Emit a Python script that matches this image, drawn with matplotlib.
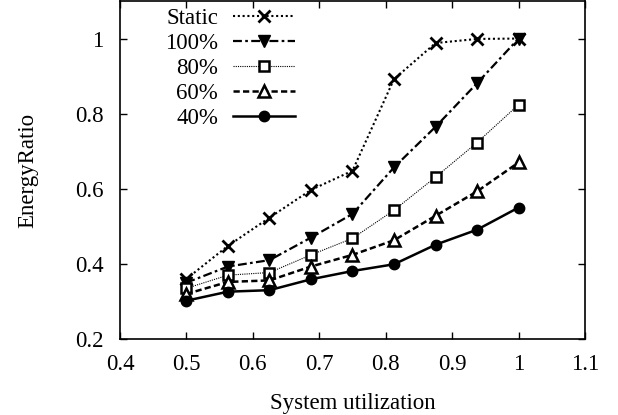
import matplotlib
matplotlib.use("Agg")
import matplotlib.pyplot as plt

x = [0.5, 0.5625, 0.625, 0.6875, 0.75, 0.8125, 0.875, 0.9375, 1.0]
static = [0.36, 0.448, 0.523, 0.597, 0.648, 0.892, 0.988, 0.999, 1.0]
p100 = [0.35, 0.393, 0.41, 0.47, 0.533, 0.657, 0.765, 0.881, 1.0]
p80 = [0.335, 0.37, 0.377, 0.424, 0.468, 0.543, 0.631, 0.723, 0.824]
p60 = [0.32, 0.352, 0.356, 0.393, 0.424, 0.463, 0.528, 0.593, 0.67]
p40 = [0.302, 0.326, 0.33, 0.359, 0.381, 0.399, 0.451, 0.491, 0.55]
labels = ["Static", "100%", "80%", "60%", "40%"]
xticks = [0.4, 0.5, 0.6, 0.7, 0.8, 0.9, 1.0, 1.1]
xticklabels = ["0.4", "0.5", "0.6", "0.7", "0.8", "0.9", "1", "1.1"]
yticks = [0.2, 0.4, 0.6, 0.8, 1.0]
yticklabels = ["0.2", "0.4", "0.6", "0.8", "1"]

plt.rcParams['font.family'] = ['Liberation Serif', 'DejaVu Serif']

FS = 16.5
fig = plt.figure(figsize=(6.18, 4.15), dpi=100)
ax = fig.add_axes([120/618, 1 - 339/415, 465/618, 338/415])

ax.plot(x, static, color='black', linestyle=(0, (1, 1.3)), linewidth=1.5,
        marker='x', markersize=8.5, markeredgewidth=2, label=labels[0])
ax.plot(x, p100, color='black', linestyle=(0, (4, 1.5, 1.2, 1.5)), linewidth=1.6,
        marker='v', markersize=9, label=labels[1])
ax.plot(x, p80, color='black', linestyle=(0, (1, 1)), linewidth=0.8,
        marker='s', markersize=7.5, markerfacecolor='white', markeredgewidth=1.8, label=labels[2])
ax.plot(x, p60, color='black', linestyle=(0, (2.5, 1.3)), linewidth=1.8,
        marker='^', markersize=8, markerfacecolor='white', markeredgewidth=1.8, label=labels[3])
ax.plot(x, p40, color='black', linestyle='-', linewidth=1.8,
        marker='o', markersize=7.5, label=labels[4])

ax.set_xlim(0.4, 1.1)
ax.set_ylim(0.2, 1.1)
ax.set_xticks(xticks)
ax.set_xticklabels(xticklabels)
ax.set_yticks(yticks)
ax.set_yticklabels(yticklabels)
ax.tick_params(direction='in', length=5, width=1, labelsize=FS, top=True, right=True)
ax.tick_params(axis='x', pad=11)
ax.tick_params(axis='y', pad=12)
for s in ax.spines.values():
    s.set_linewidth(1.2)

ax.set_xlabel("System utilization", fontsize=FS, labelpad=13)
ax.set_ylabel("EnergyRatio", fontsize=FS, labelpad=26)

leg = ax.legend(loc='upper left', bbox_to_anchor=(0.097, 0.98), frameon=False,
                markerfirst=False, fontsize=FS, handlelength=2.7, labelspacing=0.18,
                handletextpad=0.65, borderaxespad=0.0, borderpad=0.0)
for col in leg._legend_handle_box.get_children():
    col.align = 'right'

fig.savefig("out.png", dpi=100)
